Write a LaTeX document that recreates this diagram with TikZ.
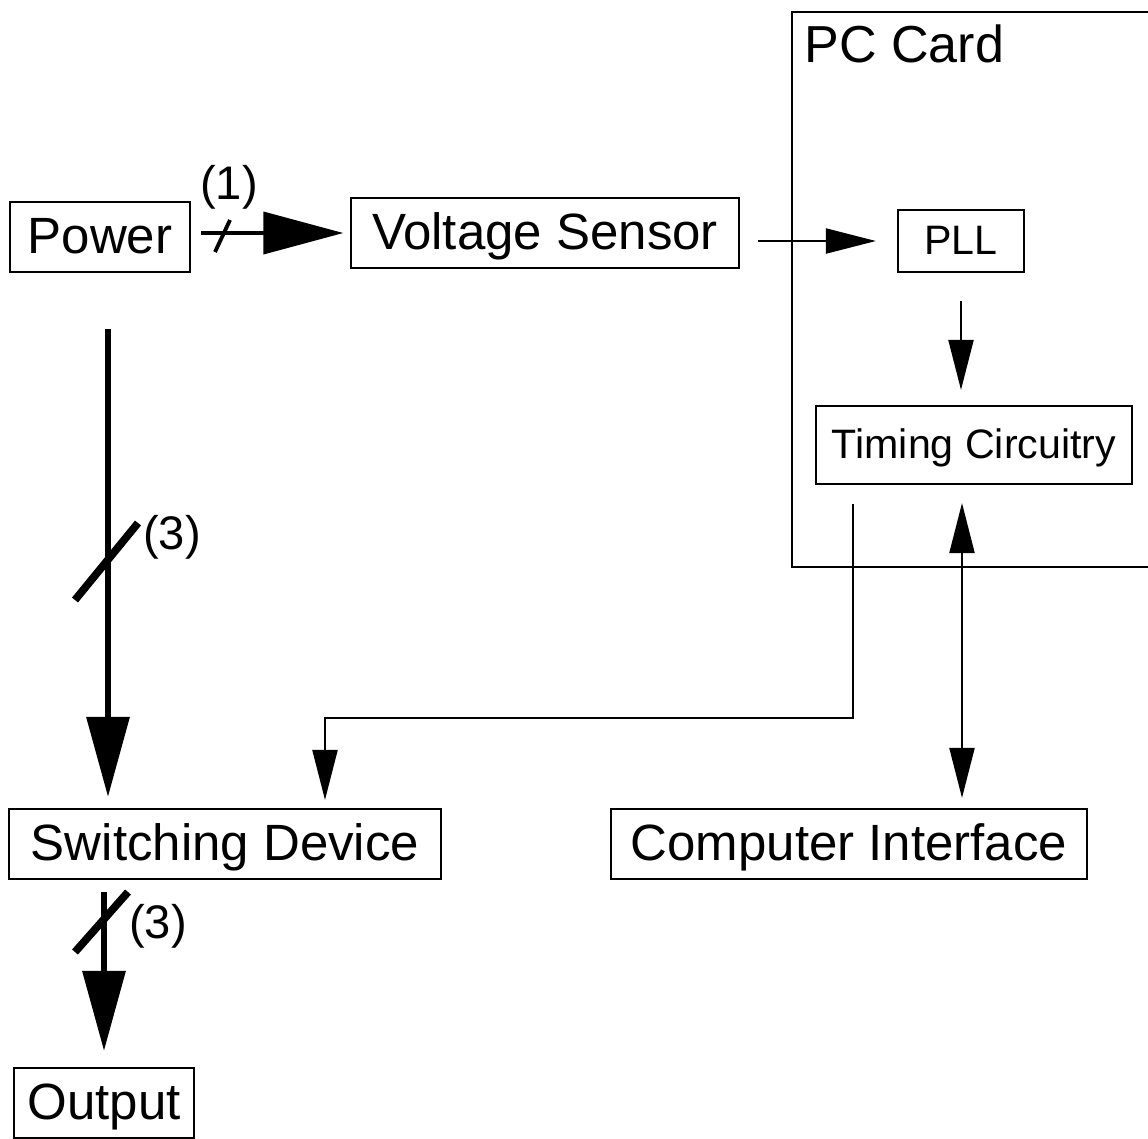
\documentclass[tikz,border=0pt]{standalone}
\usepackage{fontspec}
\setmainfont{Liberation Sans}
\usetikzlibrary{arrows.meta,positioning}

\tikzset{
  block/.style={draw, line width=0.6pt, inner xsep=1.6mm, minimum height=7mm,
    text height=11.3pt, text depth=1.8pt, font=\fontsize{14.5}{17}\selectfont},
  smallblock/.style={block, text height=9.1pt, text depth=1.4pt, font=\fontsize{11.7}{14}\selectfont},
  bus/.style={line width=1.8pt, -{Triangle[length=8mm,width=4.2mm]}},
  feed/.style={line width=1.1pt, -{Triangle[length=8mm,width=4.2mm]}},
  sig/.style={line width=0.6pt, -{Triangle[length=5mm,width=2.5mm]}},
  sigboth/.style={line width=0.6pt, {Triangle[length=5mm,width=2.5mm]}-{Triangle[length=5mm,width=2.5mm]}},
  tick/.style={line width=2.2pt},
  count/.style={font=\fontsize{13.4}{16}\selectfont, inner sep=0pt},
}

\begin{document}
\begin{tikzpicture}[x=0.01cm, y=-0.01cm]
  \useasboundingbox (0,0) rectangle (1148,1138);

  % PC card frame
  \draw[line width=0.6pt] (1148,12) -- (792,12) -- (792,567) -- (1148,567);
  \node[anchor=base west, inner sep=0pt, font=\fontsize{14.8}{17}\selectfont] (pccard) at (804,62) {PC Card};

  % Blocks
  \node[block, minimum width=1.8cm] (power) at (100,237) {Power};
  \node[block, minimum width=3.87cm] (vsense) at (545,233) {Voltage Sensor};
  \node[smallblock, minimum width=1.26cm, minimum height=6.2mm] (pll) at (961,241) {PLL};
  \node[smallblock, minimum width=3.11cm, minimum height=7.8mm] (timing) at (974,445) {Timing Circuitry};
  \node[block, minimum width=4.31cm] (switch) at (225,844) {Switching Device};
  \node[block, minimum width=4.75cm] (compint) at (849,844) {Computer Interface};
  \node[block, inner xsep=1mm, minimum width=1.8cm] (output) at (104,1103) {Output};

  % Power lines
  \draw[feed, shorten <=1mm, shorten >=0.7mm] (power.east |- vsense.west) -- (vsense.west);
  \draw[line width=1.1pt] (215,252) -- (230,220);
  \node[count] (n1) at (229,187) {(1)};

  \coordinate (pwrtap) at ([xshift=0.08cm]power.south);
  \draw[bus, shorten <=5.6mm, shorten >=1.1mm] (pwrtap) -- (pwrtap |- switch.north);
  \draw[tick] (75,600) -- (138,523);
  \node[count] (n3a) at (172,537) {(3)};

  \draw[bus, shorten <=1.2mm, shorten >=1.6mm] (output.north |- switch.south) -- (output.north);
  \draw[tick] (75,952) -- (128,892);
  \node[count] (n3b) at (158,926) {(3)};

  % Signal lines
  \draw[sig, shorten <=1.8mm, shorten >=2.1mm] (vsense.east |- pll.west) -- (pll.west);
  \draw[sig, shorten <=2.8mm, shorten >=1.5mm] (pll.south) -- (pll.south |- timing.north);

  \coordinate (tout) at (853,484);
  \coordinate (swin) at (325,718);
  \draw[sig, shorten <=2mm, shorten >=0.8mm] (tout) |- (swin) -- (swin |- switch.north);

  \coordinate (cpu) at (962,484);
  \draw[sigboth, shorten <=1.9mm, shorten >=1mm] (cpu) -- (cpu |- compint.north);
\end{tikzpicture}
\end{document}
